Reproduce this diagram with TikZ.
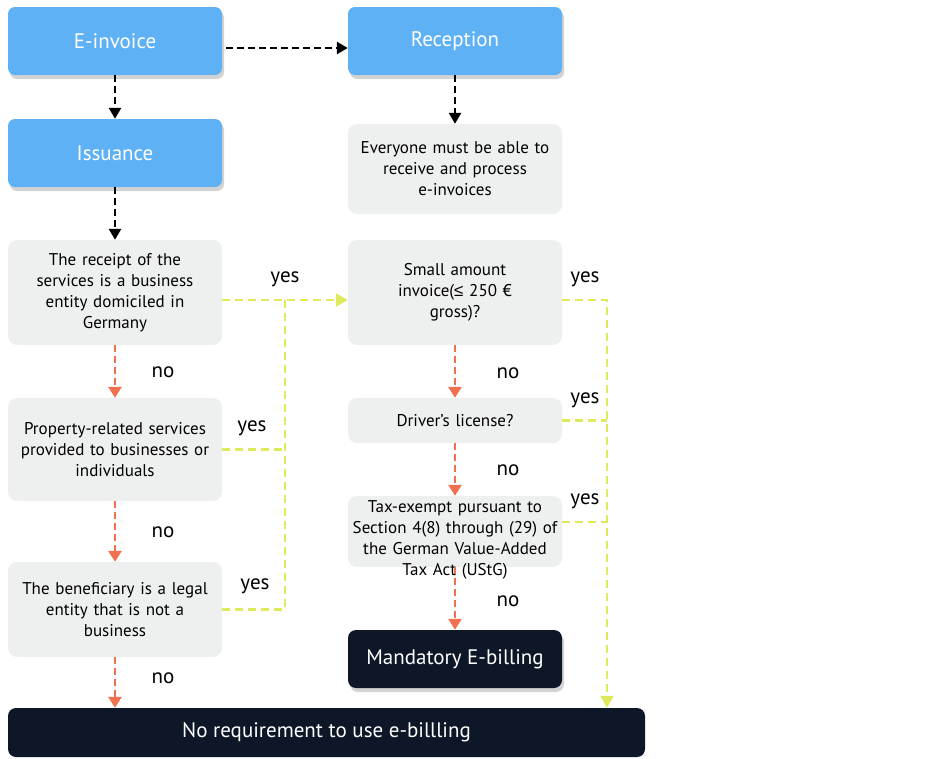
\documentclass[tikz,border=0pt]{standalone}
\usepackage{fontspec}
\setmainfont{PT Sans}
\newfontfamily\symfont{Liberation Sans}
\usetikzlibrary{shadows,arrows.meta}
\definecolor{boxblue}{HTML}{5FB1F6}
\definecolor{boxgray}{HTML}{EEF0EF}
\definecolor{boxdark}{HTML}{0E1727}
\definecolor{nored}{HTML}{F0704F}
\definecolor{yesgreen}{HTML}{DEEA5C}
\begin{document}
\begin{tikzpicture}[x=1pt,y=-1pt,
 head/.style={fill=boxblue,text=white,rounded corners=7pt,minimum width=214pt,minimum height=68pt,font=\fontsize{21}{24}\selectfont,drop shadow={opacity=0.35,shadow xshift=2pt,shadow yshift=-4pt}},
 ask/.style={fill=boxgray,rounded corners=9pt,align=center,inner xsep=4pt,text width=206pt,font=\fontsize{17}{21}\selectfont},
 asktext/.style={align=center,text width=206pt,font=\fontsize{17}{21}\selectfont},
 final/.style={fill=boxdark,text=white,rounded corners=8pt,minimum width=214pt,minimum height=58pt,font=\fontsize{21}{24}\selectfont},
 lbl/.style={font=\fontsize{21}{24}\selectfont},
 go/.style={line width=2.6pt,dash pattern=on 7pt off 4pt,-{Triangle[length=11pt,width=12pt]}},
 no/.style={nored,line width=2.6pt,dash pattern=on 7pt off 4pt,-{Triangle[length=11pt,width=13pt]}},
 yesline/.style={yesgreen,line width=2.4pt,dash pattern=on 8pt off 5pt}]
 \useasboundingbox (0,0) rectangle (945,758);
 \node[head] (einv) at (115,41) {E-invoice}; \node[head] (recep) at (455,41) {Reception};
 \node[head] (issue) at (115,153) {Issuance};
 \node[ask,minimum height=90pt] (every) at (455,169) {Everyone must be able to\\receive and process\\e-invoices};
 \node[ask,minimum height=105pt] (receipt) at (115,292.5) {The receipt of the\\services is a business\\entity domiciled in\\Germany};
 \node[ask,minimum height=103pt] (prop) at (115,449.5) {Property-related services\\provided to businesses or\\individuals};
 \node[ask,minimum height=95pt] (benef) at (115,609.5) {The beneficiary is a legal\\entity that is not a\\business};
 \node[ask,minimum height=105pt] (small) at (455,292.5) {Small amount\\invoice({\symfont ≤} 250 €\\gross)?};
 \node[ask,minimum height=45pt] (drive) at (455,420.5) {Driver’s license?};
 \node[ask,minimum height=71pt] (taxex) at (455,531.5) {}; \node[asktext] (taxtxt) at (455,540) {Tax-exempt pursuant to\\Section 4(8) through (29) of\\the German Value-Added\\Tax Act (UStG)};
 \node[final,drop shadow={opacity=0.35,shadow xshift=2pt,shadow yshift=-4pt}] (mand) at (455,659) {Mandatory E-billing};
 \node[final,minimum width=637pt,minimum height=49pt] (noreq) at (326.5,732.5) {No requirement to use e-billling};
 % black flow
 \draw[go,shorten <=4pt] ([yshift=-7pt]einv.east) -- ([yshift=-7pt]recep.west);
 \draw[go] (einv) -- (issue); \draw[go] (recep) -- (every); \draw[go] (issue) -- (receipt);
 % no branches
 \draw[no] (receipt) -- (prop); \draw[no] (prop) -- (benef); \draw[no] (benef.south) -- (benef.south |- noreq.north);
 \draw[no] (small) -- (drive); \draw[no] (drive) -- (taxex); \draw[no] (taxex) -- (mand);
 \node[lbl] (n1) at (163,372) {no}; \node[lbl] (n2) at (163,532) {no}; \node[lbl] (n3) at (163,678) {no};
 \node[lbl] (n4) at (508,373) {no}; \node[lbl] (n5) at (508,470) {no}; \node[lbl] (n6) at (508,601) {no};
 % yes branches
 \coordinate (jL) at (285,300); \coordinate (jR) at (607,300);
 \draw[yesline,-{Triangle[length=12pt,width=13pt]}] ([yshift=-7.5pt]receipt.east) -- ([yshift=-7.5pt]small.west);
 \draw[yesline] (prop.east) -- (prop.east -| jL); \draw[yesline] (benef.east) -- (benef.east -| jL); \draw[yesline] (jL) -- (jL |- benef.east);
 \draw[yesline,-{Triangle[length=12pt,width=13pt]}] ([yshift=-7.5pt]small.east) -- (jR) -- (jR |- noreq.north);
 \draw[yesline] (drive.east) -- (drive.east -| jR); \draw[yesline] ([yshift=9.5pt]taxex.east) -- ([yshift=9.5pt]taxex.east -| jR);
 \node[lbl] (y1) at (285,279) {yes}; \node[lbl] (y2) at (252,428) {yes}; \node[lbl] (y3) at (255,586) {yes};
 \node[lbl] (y4) at (585,279) {yes}; \node[lbl] (y5) at (585,400) {yes}; \node[lbl] (y6) at (585,501) {yes};
\end{tikzpicture}
\end{document}
